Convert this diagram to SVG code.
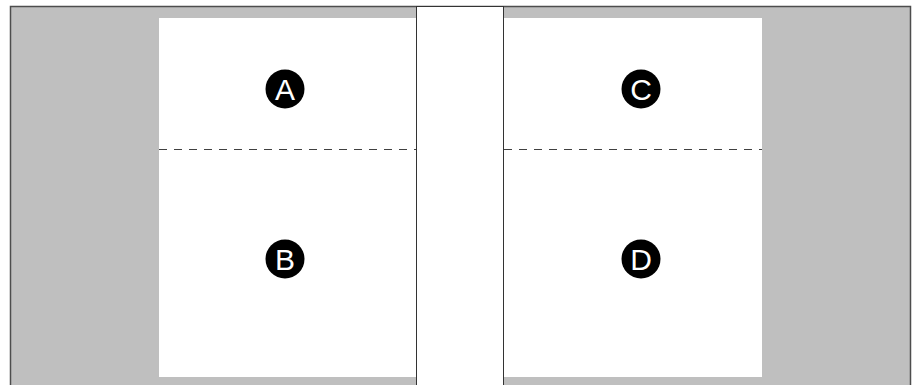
<svg xmlns="http://www.w3.org/2000/svg" width="913" height="385" viewBox="0 0 913 385">
  <style>
    .panel { fill: #ffffff; }
    .dash { stroke: #404040; stroke-width: 1; stroke-dasharray: 8 7; fill: none; }
    .badge { fill: #000000; }
    .lbl { fill: #ffffff; font-family: "Liberation Sans", Arial, sans-serif; font-size: 30px; text-anchor: middle; }
  </style>
  <g id="background">
    <rect x="10.5" y="6.5" width="900" height="390" fill="#bfbfbf" stroke="#4d4d4d" stroke-width="1.5"/>
  </g>
  <g id="left-panel">
    <rect class="panel" x="159" y="18" width="257" height="359"/>
  </g>
  <g id="right-panel">
    <rect class="panel" x="504" y="18" width="258" height="359"/>
  </g>
  <g id="center-strip">
    <rect x="416.5" y="6.5" width="87" height="390" fill="#ffffff" stroke="#333333" stroke-width="1"/>
  </g>
  <g id="connectors">
    <line class="dash" x1="159" y1="149.5" x2="416" y2="149.5"/>
    <line class="dash" x1="504" y1="149.5" x2="762" y2="149.5"/>
  </g>
  <g id="node-A">
    <circle class="badge" cx="285" cy="89" r="19.5"/>
    <text class="lbl" x="285" y="99.5">A</text>
  </g>
  <g id="node-B">
    <circle class="badge" cx="285" cy="259" r="19.5"/>
    <text class="lbl" x="285" y="269.5">B</text>
  </g>
  <g id="node-C">
    <circle class="badge" cx="641" cy="89" r="19.5"/>
    <text class="lbl" x="641" y="99.5">C</text>
  </g>
  <g id="node-D">
    <circle class="badge" cx="641" cy="259" r="19.5"/>
    <text class="lbl" x="641" y="269.5">D</text>
  </g>
</svg>
